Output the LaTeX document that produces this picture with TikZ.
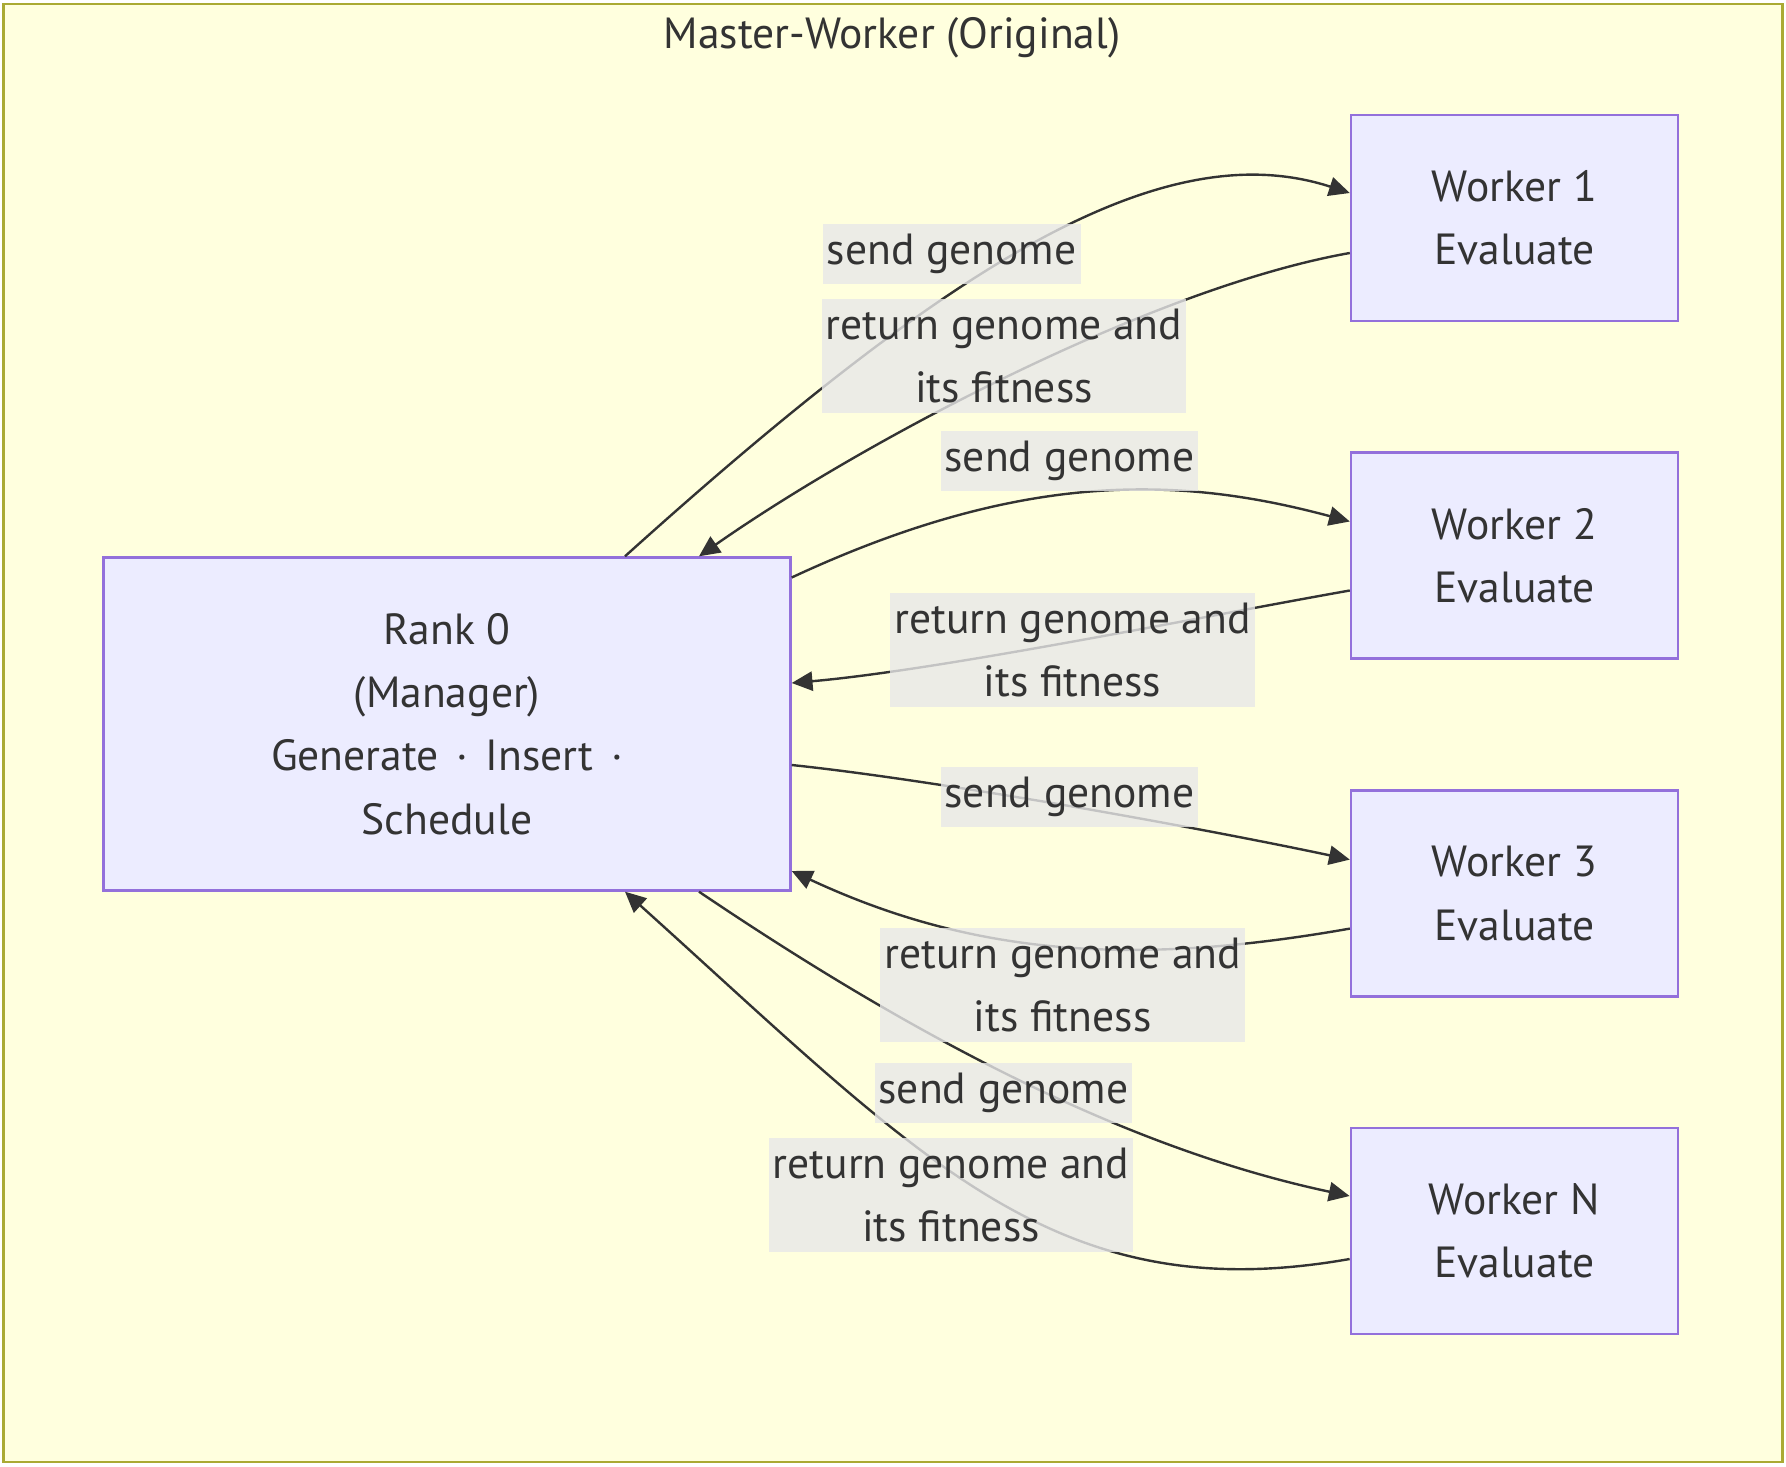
\documentclass[tikz,border=0pt]{standalone}
\usepackage{fontspec}
\setmainfont{PT Sans}
\usetikzlibrary{arrows.meta,calc}
\definecolor{grpfill}{HTML}{FFFFDE}
\definecolor{grpdraw}{HTML}{AAAA33}
\definecolor{boxfill}{HTML}{ECECFF}
\definecolor{boxdraw}{HTML}{9370DB}
\definecolor{ink}{HTML}{333333}
\definecolor{lblfill}{HTML}{E8E8E8}

\begin{document}
\begin{tikzpicture}[x=0.25pt,y=0.25pt,font=\fontsize{10.9}{15.85}\selectfont,>={Triangle[length=5.2pt,width=4.8pt]},
  grp/.style={draw=grpdraw,fill=grpfill,line width=0.6pt,minimum width=444.75pt,minimum height=364.5pt},
  proc/.style={draw=boxdraw,line width=0.6pt,fill=boxfill,text=ink,align=center,inner sep=0pt},
  mgr/.style={proc,minimum width=171.75pt,minimum height=83.25pt},
  wrk/.style={proc,minimum width=81.75pt,minimum height=51.5pt},
  msg/.style={->,draw=ink,line width=0.6pt},
  lab/.style={fill=lblfill,fill opacity=0.8,text opacity=1,text=ink,align=center,inner xsep=1pt,inner ysep=2.5pt}]
  \useasboundingbox (0,0) rectangle (1786,-1466);
  \node[grp] (grp) at (893,-733) {};
  \node[text=ink] (title) at (892,-38) {Master-Worker (Original)};
  % manager and workers
  \node[mgr] (rank) at (447,-724) {Rank 0\\(Manager)\\Generate\hspace{1.5pt} · \hspace{1.5pt}Insert\hspace{1.5pt} ·\\Schedule};
  \node[wrk] (w1) at (1514.5,-218) {Worker 1\\Evaluate};
  \node[wrk] (w2) at (1514.5,-555.5) {Worker 2\\Evaluate};
  \node[wrk] (w3) at (1514.5,-893.6) {Worker 3\\Evaluate};
  \node[wrk] (wn) at (1514.3,-1231) {Worker N\\Evaluate};
  % messages
  \draw[msg] ($(rank.north)+(178,0)$) .. controls +(42:430) and +(162:200) .. ($(w1.west)+(0,25)$);
  \draw[msg] ($(w1.west)+(0,-35)$) .. controls +(190:200) and +(35:200) .. ($(rank.north)+(252,0)$);
  \draw[msg] ($(rank.east)+(0,146.5)$) .. controls +(25:260) and +(165:170) .. ($(w2.west)+(0,34)$);
  \draw[msg] ($(w2.west)+(0,-35)$) .. controls +(190:150) and +(5:150) .. ($(rank.east)+(0,41)$);
  \draw[msg] ($(rank.east)+(0,-41)$) .. controls +(-6:150) and +(168:150) .. ($(w3.west)+(0,34)$);
  \draw[msg] ($(w3.west)+(0,-35)$) .. controls +(190:220) and +(-25:200) .. ($(rank.east)+(0,-147)$);
  \draw[msg] ($(rank.south)+(252,0)$) .. controls +(-34:240) and +(168:240) .. ($(wn.west)+(0,35)$);
  \draw[msg] ($(wn.west)+(0,-28)$) .. controls +(190:300) and +(-42:400) .. ($(rank.south)+(178,0)$);
  % labels on top
  \node[lab] (l1) at (951.6,-254) {send genome};
  \node[lab] (l2) at (1004,-356) {return genome and\\its fitness};
  \node[lab] (l3) at (1069.5,-461) {send genome};
  \node[lab] (l4) at (1072.5,-650) {return genome and\\its fitness};
  \node[lab] (l5) at (1069.5,-797) {send genome};
  \node[lab] (l6) at (1062.7,-985) {return genome and\\its fitness};
  \node[lab] (l7) at (1003.5,-1093) {send genome};
  \node[lab] (l8) at (951,-1195) {return genome and\\its fitness};
\end{tikzpicture}
\end{document}
